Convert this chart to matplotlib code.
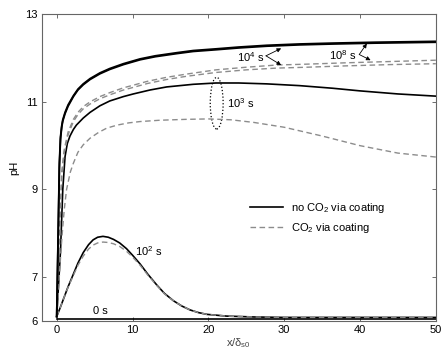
import matplotlib
matplotlib.use("Agg")
import matplotlib.pyplot as plt
import matplotlib.patches as mpatches
import numpy as np

plt.rcParams['font.family'] = ['Liberation Sans', 'DejaVu Sans']
plt.rcParams['font.size'] = 8
plt.rcParams['mathtext.fontset'] = 'custom'
plt.rcParams['mathtext.rm'] = 'Liberation Sans'
plt.rcParams['mathtext.it'] = 'Liberation Sans:italic'

#==== data (x/delta_s0, pH) ====#
x_0s = [0, 50]
ph_0s = [6.04, 6.04]

x_1e2 = [0, 0.5, 1.0, 1.5, 2.2, 2.8, 3.5, 4.2, 4.8, 5.4, 6.1, 6.8, 7.5, 8.3, 9.2, 10, 11, 12,
         13.2, 14.2, 15.4, 16.5, 17.6, 18.7, 19.8, 22.4, 26, 30, 50]
ph_1e2_solid = [6.1, 6.32, 6.55, 6.78, 7.07, 7.32, 7.56, 7.74, 7.85, 7.91, 7.93, 7.91, 7.86, 7.78, 7.65, 7.5, 7.30, 7.07,
                6.82, 6.63, 6.46, 6.34, 6.25, 6.19, 6.15, 6.11, 6.09, 6.08, 6.08]
ph_1e2_dash = [6.1, 6.32, 6.55, 6.77, 7.04, 7.27, 7.48, 7.64, 7.73, 7.78, 7.80, 7.79, 7.76, 7.70, 7.59, 7.46, 7.27, 7.05,
               6.81, 6.62, 6.46, 6.34, 6.25, 6.19, 6.15, 6.11, 6.09, 6.08, 6.08]

x_1e3_solid = [0, 0.5, 0.8, 1.1, 1.4, 1.75, 2.2, 2.6, 3.5, 4.4, 5.7, 7, 8.8, 10.1, 12.3, 14.5, 18, 21,
               24, 27.7, 32, 36.4, 40, 45, 50]
ph_1e3_solid = [6.1, 7.6, 9.0, 9.75, 10.05, 10.22, 10.37, 10.47, 10.63, 10.76, 10.91, 11.02, 11.12, 11.18, 11.27, 11.34, 11.4, 11.43,
                11.43, 11.41, 11.37, 11.31, 11.25, 11.18, 11.13]

x_1e3_dash = [0, 0.3, 0.6, 0.8, 1.0, 1.3, 1.8, 2.2, 2.8, 3.5, 4.4, 5.5, 6.6, 8, 9.5, 11, 13.6, 17, 20,
              23, 26, 30, 35, 40, 45, 50]
ph_1e3_dash = [6.1, 6.9, 7.7, 8.15, 8.55, 9.0, 9.4, 9.6, 9.85, 10.02, 10.17, 10.3, 10.4, 10.47, 10.52, 10.55, 10.58, 10.6, 10.61,
               10.59, 10.53, 10.42, 10.22, 10.0, 9.83, 9.74]

x_top = [0, 0.2, 0.35, 0.5, 0.66, 0.8, 1.1, 1.5, 2.2, 2.8, 3.5, 4.4, 5.7, 7, 8.8, 11, 13, 15.8, 18,
         21.1, 24, 27.7, 32, 36.4, 42, 50]
ph_1e4_solid = [6.1, 8.0, 9.5, 10.15, 10.42, 10.56, 10.73, 10.9, 11.12, 11.27, 11.39, 11.51, 11.64, 11.74, 11.85, 11.96, 12.03, 12.1, 12.15,
                12.19, 12.23, 12.27, 12.30, 12.32, 12.34, 12.36]
ph_1e8_solid = [6.1, 8.1, 9.6, 10.2, 10.45, 10.59, 10.76, 10.93, 11.14, 11.29, 11.41, 11.53, 11.66, 11.76, 11.87, 11.98, 12.05, 12.12, 12.17,
                12.21, 12.25, 12.29, 12.32, 12.34, 12.36, 12.38]

x_dash = [0, 0.3, 0.66, 1.0, 1.5, 2.2, 2.8, 3.5, 4.4, 5.7, 7, 8.8, 10.1, 12, 14.5, 17, 21, 25,
          29, 33, 38, 44, 50]
ph_1e4_dash = [6.1, 7.5, 9.3, 9.85, 10.25, 10.55, 10.71, 10.84, 10.95, 11.07, 11.16, 11.27, 11.33, 11.42, 11.51, 11.58, 11.67, 11.73,
               11.77, 11.79, 11.82, 11.85, 11.87]
ph_1e8_dash = [6.1, 7.6, 9.4, 9.92, 10.31, 10.6, 10.76, 10.89, 11.0, 11.12, 11.21, 11.32, 11.38, 11.47, 11.56, 11.63, 11.73, 11.79,
               11.84, 11.86, 11.89, 11.92, 11.95]

dash_grey = '#8c8c8c'

fig = plt.figure(figsize=(4.42, 3.55), dpi=100)
ax = fig.add_axes([0.094, 0.096, 0.892, 0.864])

ax.plot(x_0s, ph_0s, 'k-', lw=1.2)
ax.plot(x_1e2, ph_1e2_solid, 'k-', lw=1.2)
ax.plot(x_1e2, ph_1e2_dash, '--', color=dash_grey, lw=1.0, dashes=(4, 2.5))
ax.plot(x_1e3_solid, ph_1e3_solid, 'k-', lw=1.2)
ax.plot(x_1e3_dash, ph_1e3_dash, '--', color=dash_grey, lw=1.0, dashes=(4, 2.5))
ax.plot(x_dash, ph_1e4_dash, '--', color=dash_grey, lw=1.0, dashes=(4, 2.5))
ax.plot(x_dash, ph_1e8_dash, '--', color=dash_grey, lw=1.0, dashes=(4, 2.5))
ax.plot(x_top, ph_1e4_solid, 'k-', lw=1.3)
ax.plot(x_top, ph_1e8_solid, 'k-', lw=1.3)

# legend handles
l1, = ax.plot([], [], 'k-', lw=1.2)
l2, = ax.plot([], [], '--', color=dash_grey, lw=1.0, dashes=(4, 2.5))
ax.legend([l1, l2], ['no CO$_2$ via coating', 'CO$_2$ via coating'],
          loc='center left', bbox_to_anchor=(0.528, 0.335), frameon=False,
          borderpad=0, borderaxespad=0, handlelength=3.0, handletextpad=0.7,
          labelspacing=0.55, fontsize=8)

#==== annotations ====#
ax.text(4.8, 6.23, '0 s', fontsize=8, va='center')
ax.text(10.3, 7.6, '10$^2$ s', fontsize=8, va='center')
ax.text(22.4, 10.97, '10$^3$ s', fontsize=8, va='center')
ax.add_patch(mpatches.Ellipse((21.1, 10.97), 1.7, 1.18, fill=False, ls=':', lw=0.9, color='k'))

arr = dict(arrowstyle='-|>', color='k', lw=0.6, mutation_scale=6, shrinkA=0, shrinkB=0)
ax.text(27.4, 12.03, '10$^4$ s', fontsize=8, va='center', ha='right')
ax.annotate('', xy=(29.6, 12.22), xytext=(27.6, 12.05), arrowprops=arr)
ax.annotate('', xy=(29.6, 11.84), xytext=(27.6, 12.05), arrowprops=arr)
ax.text(39.5, 12.06, '10$^8$ s', fontsize=8, va='center', ha='right')
ax.annotate('', xy=(40.9, 12.33), xytext=(39.9, 12.08), arrowprops=arr)
ax.annotate('', xy=(41.4, 11.95), xytext=(39.9, 12.08), arrowprops=arr)

ax.set_xlim(-2, 50)
ax.set_ylim(6, 13)
ax.set_xticks([0, 10, 20, 30, 40, 50])
ax.set_yticks([6, 7, 9, 11, 13])
ax.tick_params(direction='in', top=True, right=True, length=3, width=0.6,
               color='#555555', labelsize=8, pad=3)
for sp in ax.spines.values():
    sp.set_color('#666666')
    sp.set_linewidth(0.8)

ax.set_xlabel('x/δ$_{\\mathregular{s0}}$', fontsize=8, color='#444444', labelpad=1)
ax.set_ylabel('pH', fontsize=8, labelpad=4)

plt.savefig('out.png', dpi=100)
